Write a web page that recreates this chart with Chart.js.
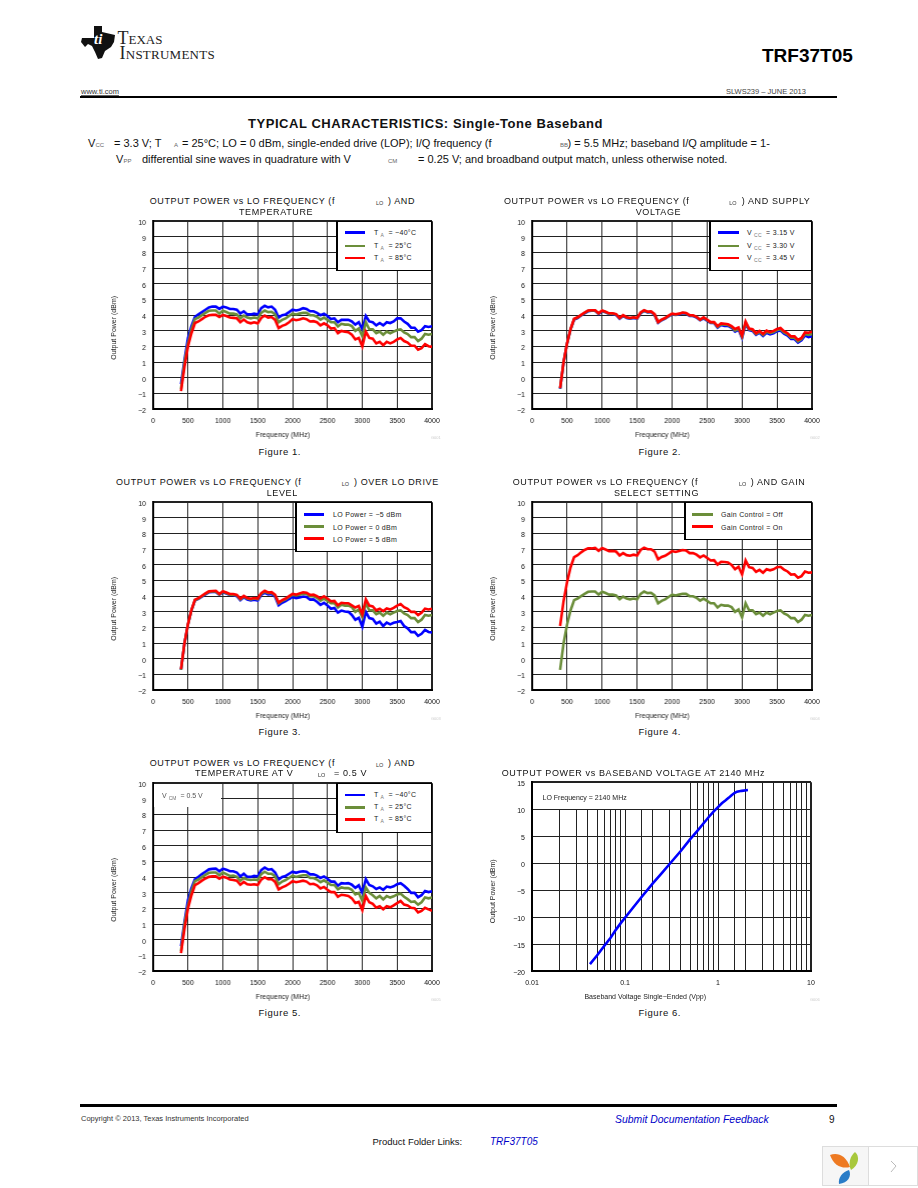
<!DOCTYPE html>
<html>
<head>
<meta charset="utf-8">
<title>TRF37T05 Typical Characteristics</title>
<script src="https://cdn.jsdelivr.net/npm/chart.js@4/dist/chart.umd.min.js"></script>
<style>
  html, body { margin: 0; padding: 0; background: #fff; }
  #page { position: relative; width: 918px; height: 1188px; overflow: hidden; font-family: "Liberation Sans", Arial, sans-serif; color: #111; }
  #page canvas { position: absolute; }
  .t { position: absolute; white-space: pre; transform: translateY(-50%); line-height: 1; }
  .rule { position: absolute; background: #000; }
  .legend { position: absolute; background: #fff; border: 1px solid #000; border-left-width: 2px; box-sizing: border-box; }
  .swatch { position: absolute; height: 2.6px; }
  .note { position: absolute; background: #fff; }
  sub { font-size: 5px; color: #777; vertical-align: -2px; margin: 0 2px; }
</style>
</head>
<body>
<div id="page"></div>
<script>
// frequency axis shared by figures 1-5, MHz
const freq = [];
for (let f = 400; f <= 4000; f += 50) freq.push(f);

// Figure 1
const fig1Blue = [-0.4,1.15,2.55,3.3,3.9,4.05,4.2,4.35,4.5,4.55,
  4.55,4.4,4.55,4.5,4.4,4.4,4.35,4.1,4.25,4.05,
  4.05,4.1,4.05,4.45,4.6,4.5,4.55,4.35,3.85,4.0,
  4.05,4.2,4.35,4.3,4.35,4.45,4.4,4.25,4.25,4.15,
  4.0,4.1,3.95,3.75,3.8,3.55,3.7,3.7,3.7,3.6,
  3.4,3.55,3.1,3.95,3.6,3.55,3.35,3.5,3.35,3.55,
  3.5,3.6,3.8,3.8,3.6,3.45,3.2,3.2,2.95,3.05,
  3.3,3.25,3.3];
const fig1Olive = [-0.7,1.0,2.2,3.1,3.75,3.85,4.0,4.15,4.28,4.3,
  4.3,4.1,4.28,4.2,4.1,4.1,4.05,3.8,3.98,3.85,
  3.8,3.85,3.8,4.15,4.3,4.2,4.22,4.05,3.55,3.7,
  3.8,3.95,4.1,4.05,4.1,4.15,4.15,4.0,4.0,3.9,
  3.72,3.85,3.7,3.55,3.55,3.28,3.45,3.4,3.4,3.3,
  3.0,3.15,2.65,3.55,3.1,3.1,2.85,2.95,2.75,2.95,
  2.85,2.95,3.05,3.1,2.9,2.8,2.6,2.6,2.35,2.5,
  2.8,2.75,2.8];
const fig1Red = [-0.85,0.7,2.0,2.85,3.5,3.6,3.75,3.9,4.0,4.02,
  4.02,3.88,4.02,3.95,3.85,3.83,3.8,3.55,3.72,3.55,
  3.48,3.55,3.48,3.82,3.98,3.85,3.88,3.7,3.18,3.32,
  3.4,3.55,3.75,3.68,3.72,3.8,3.75,3.6,3.62,3.55,
  3.35,3.48,3.35,3.15,3.18,2.85,3.0,2.95,2.92,2.75,
  2.45,2.55,2.0,2.95,2.55,2.5,2.2,2.3,2.08,2.3,
  2.2,2.3,2.45,2.55,2.35,2.25,2.05,2.05,1.8,1.9,
  2.15,2.02,1.98];

// Figure 2
const fig2Blue = [-0.7,1.0,2.2,3.1,3.72,3.82,3.98,4.12,4.25,4.28,
  4.28,4.08,4.25,4.18,4.08,4.08,4.02,3.78,3.95,3.82,
  3.78,3.82,3.78,4.12,4.28,4.18,4.2,4.02,3.52,3.68,
  3.78,3.92,4.05,4.02,4.05,4.12,4.1,3.95,3.95,3.85,
  3.68,3.8,3.65,3.5,3.5,3.2,3.38,3.32,3.32,3.2,
  2.95,3.08,2.55,3.45,3.05,3.0,2.75,2.88,2.68,2.88,
  2.78,2.85,2.98,3.02,2.82,2.7,2.48,2.48,2.25,2.4,
  2.7,2.6,2.65];
const fig2Olive = [-0.68,1.0,2.2,3.1,3.75,3.85,4.0,4.15,4.28,4.3,
  4.3,4.1,4.28,4.2,4.1,4.1,4.05,3.8,3.98,3.85,
  3.8,3.85,3.8,4.15,4.3,4.2,4.22,4.05,3.55,3.7,
  3.8,3.95,4.08,4.04,4.08,4.15,4.12,3.98,3.98,3.88,
  3.7,3.84,3.68,3.53,3.53,3.25,3.43,3.39,3.37,3.25,
  3.02,3.15,2.62,3.52,3.1,3.05,2.8,2.94,2.74,2.95,
  2.85,2.93,3.05,3.1,2.9,2.78,2.56,2.56,2.33,2.48,
  2.8,2.74,2.8];
const fig2Red = [-0.65,1.02,2.22,3.12,3.77,3.87,4.02,4.17,4.3,4.32,
  4.32,4.12,4.3,4.22,4.12,4.12,4.07,3.82,4.0,3.87,
  3.82,3.87,3.82,4.17,4.32,4.22,4.24,4.07,3.57,3.72,
  3.82,3.97,4.1,4.06,4.1,4.17,4.14,4.0,4.0,3.9,
  3.72,3.87,3.72,3.56,3.56,3.3,3.48,3.45,3.42,3.3,
  3.12,3.22,2.7,3.6,3.15,3.1,2.85,3.0,2.8,3.02,
  2.92,3.0,3.12,3.18,2.98,2.85,2.65,2.65,2.42,2.55,
  2.9,2.88,2.95];

// Figure 3
const fig3Blue = [-0.7,1.0,2.2,3.1,3.73,3.83,3.97,4.12,4.25,4.27,
  4.27,4.08,4.25,4.17,4.08,4.08,4.0,3.75,3.93,3.78,
  3.73,3.78,3.73,4.08,4.22,4.12,4.14,3.97,3.42,3.58,
  3.68,3.82,3.95,3.88,3.92,3.98,3.95,3.78,3.8,3.65,
  3.45,3.58,3.4,3.2,3.25,2.95,3.08,3.02,3.0,2.8,
  2.5,2.62,2.05,3.0,2.6,2.55,2.25,2.38,2.1,2.32,
  2.2,2.3,2.35,2.42,2.1,1.95,1.7,1.72,1.47,1.6,
  1.85,1.72,1.68];
const fig3Olive = [-0.7,1.0,2.2,3.1,3.75,3.85,4.0,4.15,4.28,4.3,
  4.3,4.1,4.28,4.2,4.1,4.1,4.05,3.8,3.98,3.85,
  3.8,3.85,3.8,4.15,4.3,4.2,4.22,4.05,3.55,3.7,
  3.8,3.95,4.1,4.05,4.1,4.15,4.15,4.0,4.0,3.9,
  3.72,3.85,3.7,3.55,3.55,3.28,3.45,3.4,3.4,3.3,
  3.0,3.15,2.65,3.55,3.1,3.1,2.85,2.95,2.75,2.95,
  2.85,2.95,3.05,3.1,2.9,2.8,2.6,2.6,2.35,2.5,
  2.8,2.75,2.8];
const fig3Red = [-0.65,1.02,2.22,3.12,3.78,3.88,4.03,4.18,4.31,4.33,
  4.34,4.14,4.32,4.24,4.14,4.14,4.08,3.84,4.02,3.89,
  3.84,3.88,3.85,4.2,4.35,4.24,4.26,4.09,3.6,3.75,
  3.85,4.0,4.15,4.1,4.18,4.25,4.22,4.08,4.1,4.0,
  3.85,4.0,3.85,3.68,3.7,3.42,3.58,3.55,3.55,3.42,
  3.28,3.38,2.85,3.8,3.4,3.35,3.1,3.2,3.05,3.22,
  3.15,3.25,3.4,3.5,3.3,3.2,3.0,3.0,2.8,2.95,
  3.2,3.15,3.2];

// Figure 4
const fig4Off = [-0.7,1.0,2.2,3.1,3.75,3.85,4.0,4.15,4.28,4.3,
  4.3,4.1,4.28,4.2,4.1,4.1,4.05,3.8,3.98,3.85,
  3.8,3.85,3.8,4.15,4.3,4.2,4.22,4.05,3.55,3.7,
  3.8,3.95,4.1,4.05,4.1,4.15,4.15,4.0,4.0,3.9,
  3.72,3.85,3.7,3.55,3.55,3.28,3.45,3.4,3.4,3.3,
  3.0,3.15,2.65,3.55,3.1,3.1,2.85,2.95,2.75,2.95,
  2.85,2.95,3.05,3.1,2.9,2.8,2.6,2.6,2.35,2.5,
  2.8,2.75,2.8];
const fig4On = [2.1,3.7,4.9,5.85,6.5,6.62,6.8,6.95,7.05,7.05,
  7.08,6.9,7.08,6.98,6.88,6.88,6.85,6.6,6.75,6.62,
  6.58,6.65,6.6,6.95,7.1,7.0,7.0,6.85,6.35,6.5,
  6.58,6.72,6.88,6.82,6.88,6.95,6.92,6.75,6.75,6.65,
  6.48,6.6,6.45,6.28,6.3,6.02,6.2,6.18,6.15,6.0,
  5.72,5.88,5.4,6.28,5.85,5.8,5.55,5.68,5.5,5.72,
  5.65,5.72,5.85,5.88,5.7,5.58,5.38,5.4,5.18,5.28,
  5.58,5.5,5.52];

// Figure 5
const fig5Blue = [-0.4,1.15,2.55,3.3,3.88,4.03,4.2,4.35,4.5,4.53,
  4.55,4.38,4.55,4.48,4.38,4.38,4.3,4.05,4.22,4.02,
  4.02,4.08,4.05,4.45,4.62,4.48,4.52,4.3,3.85,4.02,
  4.08,4.22,4.35,4.28,4.35,4.38,4.35,4.18,4.18,4.1,
  3.95,4.05,3.9,3.72,3.72,3.45,3.62,3.6,3.62,3.52,
  3.32,3.48,3.0,3.88,3.5,3.42,3.25,3.35,3.2,3.4,
  3.35,3.42,3.55,3.62,3.45,3.25,3.0,3.0,2.72,2.85,
  3.12,3.05,3.1];
const fig5Olive = [-0.7,1.0,2.2,3.1,3.75,3.85,4.0,4.15,4.28,4.3,
  4.3,4.12,4.3,4.2,4.08,4.1,4.02,3.78,3.95,3.85,
  3.82,3.85,3.82,4.2,4.35,4.22,4.22,4.05,3.55,3.72,
  3.82,3.95,4.1,4.02,4.08,4.12,4.12,3.95,3.95,3.85,
  3.68,3.8,3.65,3.5,3.5,3.22,3.35,3.3,3.3,3.2,
  2.9,3.0,2.5,3.35,3.0,2.85,2.65,2.8,2.58,2.8,
  2.7,2.78,2.9,2.95,2.75,2.6,2.42,2.45,2.25,2.4,
  2.7,2.65,2.7];
const fig5Red = [-0.85,0.7,2.0,2.85,3.5,3.62,3.78,3.92,4.02,4.05,
  4.05,3.9,4.03,3.97,3.85,3.82,3.78,3.52,3.7,3.55,
  3.52,3.55,3.5,3.85,4.0,3.88,3.88,3.7,3.22,3.35,
  3.45,3.58,3.75,3.68,3.72,3.78,3.72,3.55,3.58,3.48,
  3.28,3.38,3.2,3.05,3.05,2.75,2.88,2.85,2.8,2.65,
  2.35,2.42,1.9,2.8,2.4,2.3,2.05,2.15,1.95,2.15,
  2.08,2.2,2.35,2.48,2.25,2.2,2.05,2.02,1.75,1.85,
  2.05,1.95,1.85];

// Figure 6
const fig6Volts = [0.042,0.05,0.06,0.07,0.08,0.09,0.1,0.12,0.15,0.2,0.25,0.3,0.4,0.5,0.6,0.7,0.8,0.9,1,1.1,1.2,1.3,1.4,1.5,1.6,1.8,2.1];
const fig6Power = [-18.7,-17.1,-15.3,-13.8,-12.3,-11.1,-10.1,-8.4,-6.3,-3.7,-1.8,-0.2,2.3,4.4,6.0,7.4,8.6,9.6,10.4,11.1,11.6,12.1,12.6,13.0,13.25,13.4,13.55];

const freqTicks = [0,500,1000,1500,2000,2500,3000,3500,4000];
const powerTicks = [-2,-1,0,1,2,3,4,5,6,7,8,9,10];
const fig6YTicks = [-20,-15,-10,-5,0,5,10,15];
const fig6XLabels = ['0.01','0.1','1','10'];

const legendTemp = ['T<sub>A</sub> = −40°C','T<sub>A</sub> = 25°C','T<sub>A</sub> = 85°C'];
const legendVcc = ['V<sub>CC</sub> = 3.15 V','V<sub>CC</sub> = 3.30 V','V<sub>CC</sub> = 3.45 V'];
const legendDrive = ['LO Power = −5 dBm','LO Power = 0 dBm','LO Power = 5 dBm'];
const legendGain = ['Gain Control = Off','Gain Control = On'];

const BLUE = '#0000ff', OLIVE = '#6b8e3a', RED = '#ff0000';
const page = document.getElementById('page');

Chart.defaults.font.family = '"Liberation Sans", Arial, sans-serif';
Chart.defaults.color = '#111';
Chart.defaults.animation = false;

function txt(x, y, s, size, extra) {
  const el = document.createElement('div');
  el.className = 't';
  el.style.left = x + 'px';
  el.style.top = y + 'px';
  el.style.fontSize = (size || 8) + 'px';
  if (extra) el.style.cssText += extra;
  el.innerHTML = s;
  page.appendChild(el);
  return el;
}
function rule(x, y, w, h) {
  const el = document.createElement('div');
  el.className = 'rule';
  el.style.cssText = `left:${x}px;top:${y}px;width:${w}px;height:${h}px`;
  page.appendChild(el);
}

// plot box in page pixels, the canvas is sized and placed so chartArea lands on it
function makeChart(box, xCfg, yCfg, datasets) {
  const cv = document.createElement('canvas');
  const w = 43 + box.width + 12, h = 6 + box.height + 30;
  cv.width = w; cv.height = h;
  cv.style.width = w + 'px';
  cv.style.height = h + 'px';
  page.appendChild(cv);
  const edge = (c) => (c.tick && (c.tick.value === c.scale.max || c.tick.value === c.scale.min)) ? 2 : 1;
  const chart = new Chart(cv, {
    type: 'line',
    data: { datasets: datasets.map((d, i) => ({
      label: d.label,
      data: d.xs.map((x, k) => ({ x: x, y: d.ys[k] })),
      borderColor: d.color,
      backgroundColor: d.color,
      borderWidth: 2.6,
      pointRadius: 0,
      tension: 0,
      order: datasets.length - i
    })) },
    options: {
      responsive: false,
      maintainAspectRatio: false,
      layout: { autoPadding: false, padding: { top: 6, right: 12 } },
      plugins: { legend: { display: false }, tooltip: { enabled: false } },
      scales: {
        x: Object.assign({
          afterFit: (s) => { s.height = 30; },
          grid: { color: '#222', lineWidth: edge, drawTicks: false },
          border: { color: '#000', width: 2 },
          title: { display: true, text: xCfg.title, font: { size: 7 }, padding: 0, color: '#222' },
        }, xCfg.scale),
        y: Object.assign({
          afterFit: (s) => { s.width = 43; },
          grid: { color: '#222', lineWidth: edge, drawTicks: false },
          border: { color: '#000', width: 2 },
          title: { display: true, text: yCfg.title, font: { size: 7 }, padding: 0, color: '#222' },
        }, yCfg.scale)
      }
    }
  });
  // scale paddings eat into the area, grow the canvas by whatever went missing
  chart.resize(w + box.width - chart.chartArea.width, h + box.height - chart.chartArea.height);
  cv.style.left = (box.left - chart.chartArea.left) + 'px';
  cv.style.top = (box.top - chart.chartArea.top) + 'px';
  return chart;
}

const plainTick = (v) => String(v).replace('-', '−');
const freqScale = {
  type: 'linear', min: 0, max: 4000,
  afterBuildTicks: (s) => { s.ticks = freqTicks.map(v => ({ value: v })); },
  ticks: { font: { size: 7 }, padding: 8, maxRotation: 0, autoSkip: false, callback: plainTick }
};
const powerScale = {
  type: 'linear', min: -2, max: 10,
  afterBuildTicks: (s) => { s.ticks = powerTicks.map(v => ({ value: v })); },
  ticks: { font: { size: 7 }, padding: 7, labelOffset: 2, autoSkip: false, callback: plainTick }
};
const xFreq = { title: 'Frequency (MHz)' + ' '.repeat(10), scale: freqScale };
const yPower = { title: 'Output Power (dBm)' + ' '.repeat(13), scale: powerScale };

function series(colors, ys, labels) {
  return ys.map((v, i) => ({ label: labels[i].replace(/<\/?sub>/g, ''), xs: freq, ys: v, color: colors[i] }));
}

const L = 153, R = 532;
makeChart({ left: L, top: 221, width: 278, height: 188 }, xFreq, yPower, series([BLUE, OLIVE, RED], [fig1Blue, fig1Olive, fig1Red], legendTemp));
makeChart({ left: R, top: 221, width: 279, height: 188 }, xFreq, yPower, series([BLUE, OLIVE, RED], [fig2Blue, fig2Olive, fig2Red], legendVcc));
makeChart({ left: L, top: 502, width: 278, height: 188 }, xFreq, yPower, series([BLUE, OLIVE, RED], [fig3Blue, fig3Olive, fig3Red], legendDrive));
makeChart({ left: R, top: 502, width: 279, height: 188 }, xFreq, yPower, series([OLIVE, RED], [fig4Off, fig4On], legendGain));
makeChart({ left: L, top: 783, width: 278, height: 188 }, xFreq, yPower, series([BLUE, OLIVE, RED], [fig5Blue, fig5Olive, fig5Red], legendTemp));
makeChart({ left: R, top: 782, width: 279, height: 189 },
  { title: 'Baseband Voltage Single−Ended (Vpp)' + ' '.repeat(27), scale: {
    type: 'logarithmic', min: 0.01, max: 10,
    ticks: { font: { size: 7 }, padding: 8, maxRotation: 0, autoSkip: false,
      callback: (v) => fig6XLabels.includes(String(v)) ? String(v) : '' }
  } },
  { title: 'Output Power (dBm)' + ' '.repeat(15), scale: {
    type: 'linear', min: -20, max: 15,
    afterBuildTicks: (s) => { s.ticks = fig6YTicks.map(v => ({ value: v })); },
    ticks: { font: { size: 7 }, padding: 7, labelOffset: 2, autoSkip: false, callback: plainTick }
  } },
  [{ label: 'LO Frequency = 2140 MHz', xs: fig6Volts, ys: fig6Power, color: BLUE }]);

// legends sit inside the plots
function legend(x, y, w, h, lineX, lineW, textX, rows, colors, labels) {
  const el = document.createElement('div');
  el.className = 'legend';
  el.style.cssText = `left:${x}px;top:${y}px;width:${w}px;height:${h}px`;
  page.appendChild(el);
  labels.forEach((lab, i) => {
    const sw = document.createElement('div');
    sw.className = 'swatch';
    sw.style.cssText = `left:${lineX}px;top:${rows[i] - 1.3}px;width:${lineW}px;background:${colors[i]}`;
    page.appendChild(sw);
    txt(textX, rows[i], lab, 7, 'letter-spacing:.3px;color:#222');
  });
}
legend(336, 221, 95.5, 49.5, 345, 20, 374, [232.7, 246, 258], [BLUE, OLIVE, RED], legendTemp);
legend(708.5, 221, 103, 49.5, 718, 20.5, 747, [232.7, 246, 258], [BLUE, OLIVE, RED], legendVcc);
legend(294.5, 502, 137, 49.5, 304, 20, 333, [514.3, 526.7, 538.7], [BLUE, OLIVE, RED], legendDrive);
legend(683.5, 502, 128, 37.5, 692, 20.5, 721, [514.3, 526.7], [OLIVE, RED], legendGain);
legend(336, 783, 95.5, 49.5, 345, 20, 374, [795, 807.3, 819.3], [BLUE, OLIVE, RED], legendTemp);

// plot notes with their white backing
function note(x, y, w, h) {
  const el = document.createElement('div');
  el.className = 'note';
  el.style.cssText = `left:${x}px;top:${y}px;width:${w}px;height:${h}px`;
  page.appendChild(el);
}
note(154, 784, 67, 23);
txt(162, 796, 'V<sub>CM</sub> = 0.5 V', 7, 'color:#555');
note(533, 783, 147.5, 25.5);
txt(542.5, 797, 'LO Frequency = 2140 MHz', 7, 'color:#222');

// chart titles
const titleStyle = 'letter-spacing:.62px;color:#111';
function title(x, y, s) { txt(x, y, s, 9, titleStyle); }
function loSub(x, y) { txt(x, y + 2.5, 'LO', 5.5, 'color:#333'); }

title(149.7, 201, 'OUTPUT POWER vs LO FREQUENCY (f'); loSub(376, 201); title(388, 201, ') AND');
title(239, 212, 'TEMPERATURE');
title(504, 201, 'OUTPUT POWER vs LO FREQUENCY (f'); loSub(729.3, 201); title(741.7, 201, ') AND SUPPLY');
title(635.7, 212, 'VOLTAGE');
title(116, 482.3, 'OUTPUT POWER vs LO FREQUENCY (f'); loSub(341.7, 482.3); title(354, 482.3, ') OVER LO DRIVE');
title(266.7, 493.3, 'LEVEL');
title(512.7, 482.3, 'OUTPUT POWER vs LO FREQUENCY (f'); loSub(739, 482.3); title(750.7, 482.3, ') AND GAIN');
title(614, 493.3, 'SELECT SETTING');
title(149.7, 763.3, 'OUTPUT POWER vs LO FREQUENCY (f'); loSub(376, 763.3); title(388, 763.3, ') AND');
title(195, 773.3, 'TEMPERATURE AT V'); loSub(318, 773.3); title(334, 773.3, '= 0.5 V');
title(501.7, 773.3, 'OUTPUT POWER vs BASEBAND VOLTAGE AT 2140 MHz');

// figure captions
[[258.5, 451.7, 1], [638.5, 451.7, 2], [258.5, 731.7, 3], [638.5, 731.7, 4], [258.5, 1012.7, 5], [638.5, 1012.7, 6]].forEach((c) => {
  txt(c[0], c[1], 'Figure ' + c[2] + '.', 9.5, 'letter-spacing:.55px');
});

// little drawing ids beside each plot
[[431, 438, 'G001'], [810, 438, 'G002'], [431, 719, 'G003'], [810, 719, 'G004'], [431, 1000, 'G005'], [810, 1000, 'G006']].forEach((c) => {
  txt(c[0], c[1], c[2], 4, 'color:#ccc');
});

// page header
const logo = document.createElementNS('http://www.w3.org/2000/svg', 'svg');
logo.setAttribute('width', 36);
logo.setAttribute('height', 34);
logo.style.cssText = 'position:absolute;left:81px;top:26px';
logo.innerHTML = '<polygon fill="#111" points="13,0 21,0 21,6 34,9 33,16 30,21 24,25 21,32 17,33 14,26 11,20 7,18 4,21 0,16 1,12 13,12"/>'
  + '<text x="13" y="18" font-family="Liberation Serif" font-style="italic" font-weight="bold" font-size="15" fill="#fff">ti</text>';
page.appendChild(logo);
txt(117.5, 38, 'Texas', 18, 'font-family:\'Liberation Serif\';font-variant:small-caps;color:#222');
txt(119.5, 53, 'Instruments', 18, 'font-family:\'Liberation Serif\';font-variant:small-caps;color:#222;letter-spacing:.25px');
txt(762, 54.5, 'TRF37T05', 19, 'font-weight:bold;color:#000');
txt(81, 91.5, '<u>www.ti.com</u>', 7.5, 'color:#333');
txt(726, 91.5, 'SLWS239 – JUNE 2013', 7.5, 'color:#444');
rule(80, 96, 757, 2);

txt(248, 123, 'TYPICAL CHARACTERISTICS: Single-Tone Baseband', 13, 'font-weight:bold;letter-spacing:.55px;color:#111');
const pStyle = 'color:#111';
txt(88, 143, 'V', 11, pStyle); txt(95.5, 145, 'CC', 6, 'color:#666');
txt(114, 143, '= 3.3 V; T', 11, pStyle); txt(174, 145, 'A', 6, 'color:#666');
txt(182, 143, '= 25°C; LO = 0 dBm, single-ended drive (LOP); I/Q frequency (f', 11, pStyle);
txt(560, 145, 'BB', 6, 'color:#666');
txt(567.5, 143, ') = 5.5 MHz; baseband I/Q amplitude = 1-', 11, pStyle);
txt(116, 159, 'V', 11, pStyle); txt(123.5, 161, 'PP', 6, 'color:#666');
txt(142, 159, 'differential sine waves in quadrature with V', 11, pStyle);
txt(388, 161, 'CM', 6, 'color:#666');
txt(418, 159, '= 0.25 V; and broadband output match, unless otherwise noted.', 11, pStyle);

// page footer
rule(80, 1104, 757, 3);
txt(81, 1119, 'Copyright © 2013, Texas Instruments Incorporated', 7.5, 'color:#333');
txt(615, 1120, 'Submit Documentation Feedback', 10.4, 'font-style:italic;color:#0000c8');
txt(829, 1120, '9', 10);
txt(372.5, 1142, 'Product Folder Links:', 9.5);
txt(490, 1142, 'TRF37T05', 10, 'font-style:italic;color:#0000c8');

// viewer widget in the corner
const widget = document.createElementNS('http://www.w3.org/2000/svg', 'svg');
widget.setAttribute('width', 96);
widget.setAttribute('height', 42);
widget.style.cssText = 'position:absolute;left:822px;top:1146px';
widget.innerHTML = '<rect x="0.5" y="0.5" width="46" height="39" fill="#f6f6f6" stroke="#ddd"/>'
  + '<rect x="46.5" y="0.5" width="49" height="39" fill="#fff" stroke="#ddd"/>'
  + '<path d="M8,9 C15,6 24,9 28,21 C20,23 12,20 8,9Z" fill="#ee7a22"/>'
  + '<path d="M33,6 C38,10 37,19 29,24 C26,18 28,10 33,6Z" fill="#a8c83c"/>'
  + '<path d="M27,24 C30,30 26,37 17,38 C16,32 20,26 27,24Z" fill="#2a7cc7"/>'
  + '<path d="M69,15 L74,20 L69,26" fill="none" stroke="#bbb" stroke-width="1"/>';
page.appendChild(widget);
</script>
</body>
</html>
